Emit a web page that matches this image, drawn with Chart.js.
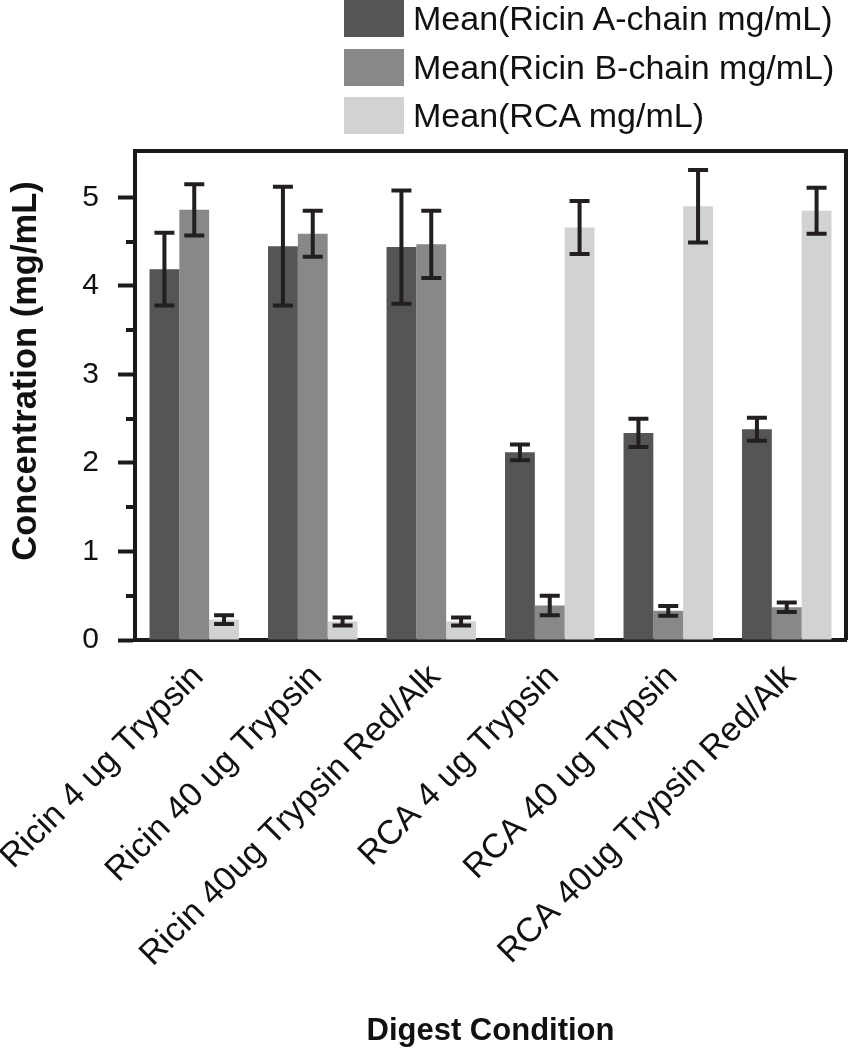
<!DOCTYPE html>
<html>
<head>
<meta charset="utf-8">
<script src="https://cdn.jsdelivr.net/npm/chart.js@4.4.1/dist/chart.umd.min.js"></script>
<style>
  body { margin: 0; background: #fff; font-family: "Liberation Sans", Arial, sans-serif; }
  #wrap { position: relative; width: 851px; height: 1050px; }
  #legend { position: absolute; left: 344px; top: 0; }
  .item { display: flex; align-items: center; height: 37px; margin-bottom: 11.5px; }
  .box { width: 60px; height: 37px; margin-right: 9px; }
  .lab { font-size: 34px; color: #111; line-height: 37px; white-space: nowrap; }
  #ytitle { position: absolute; left: -176px; top: 354px; width: 400px; height: 34px; line-height: 34px;
            text-align: center; font-size: 34.5px; font-weight: bold; color: #111; transform: rotate(-90deg); }
</style>
</head>
<body>
<div id="wrap">
  <canvas id="chart" width="851" height="1050"></canvas>
  <div id="legend"></div>
  <div id="ytitle">Concentration (mg/mL)</div>
</div>
<script>
var labels = ['Ricin 4 ug Trypsin', 'Ricin 40 ug Trypsin', 'Ricin 40ug Trypsin Red/Alk',
              'RCA 4 ug Trypsin', 'RCA 40 ug Trypsin', 'RCA 40ug Trypsin Red/Alk'];
var seriesNames = ['Mean(Ricin A-chain mg/mL)', 'Mean(Ricin B-chain mg/mL)', 'Mean(RCA mg/mL)'];
var chainA = [4.19, 4.45, 4.44, 2.12, 2.34, 2.38];
var chainAErr = [0.41, 0.67, 0.64, 0.09, 0.16, 0.13];
var chainB = [4.86, 4.59, 4.47, 0.39, 0.33, 0.37];
var chainBErr = [0.29, 0.26, 0.38, 0.11, 0.055, 0.055];
var rca = [0.23, 0.21, 0.21, 4.66, 4.90, 4.85];
var rcaErr = [0.05, 0.045, 0.045, 0.30, 0.41, 0.26];
var colors = ['#555557', '#87888a', '#d1d2d4'];

Chart.defaults.font.family = '"Liberation Sans", Arial, sans-serif';
Chart.defaults.color = '#111';

// legend as plain html above the plot
var legendEl = document.getElementById('legend');
seriesNames.forEach(function(name, i){
  var row = document.createElement('div');
  row.className = 'item';
  row.innerHTML = '<div class="box" style="background:' + colors[i] + '"></div><span class="lab"></span>';
  row.querySelector('.lab').textContent = name;
  legendEl.appendChild(row);
});

var errorBars = {
  id: 'errorBars',
  afterDatasetsDraw: function(chart){
    var ctx = chart.ctx, y = chart.scales.y;
    chart.data.datasets.forEach(function(ds, i){
      var meta = chart.getDatasetMeta(i);
      meta.data.forEach(function(bar, j){
        var v = ds.data[j], e = ds.errors[j];
        var top = y.getPixelForValue(v + e), bot = y.getPixelForValue(v - e);
        ctx.save();
        ctx.strokeStyle = '#231f20';
        ctx.lineWidth = 4;
        ctx.beginPath();
        ctx.moveTo(bar.x, top); ctx.lineTo(bar.x, bot);
        ctx.moveTo(bar.x - 10, top); ctx.lineTo(bar.x + 10, top);
        ctx.moveTo(bar.x - 10, bot); ctx.lineTo(bar.x + 10, bot);
        ctx.stroke();
        ctx.restore();
      });
    });
  }
};

// top/right frame lines and the half-step minor ticks on y
var frame = {
  id: 'frame',
  afterDraw: function(chart){
    var ctx = chart.ctx, a = chart.chartArea, y = chart.scales.y;
    ctx.save();
    ctx.strokeStyle = '#1a1a1a';
    ctx.lineWidth = 4;
    ctx.beginPath();
    ctx.moveTo(a.left - 2, a.top); ctx.lineTo(a.right, a.top); ctx.lineTo(a.right, a.bottom);
    for (var v = 0.5; v < 5.5; v += 1) {
      var py = Math.round(y.getPixelForValue(v));
      ctx.moveTo(a.left - 9, py); ctx.lineTo(a.left, py);
    }
    ctx.stroke();
    ctx.restore();
  }
};

new Chart(document.getElementById('chart'), {
  type: 'bar',
  data: {
    labels: labels,
    datasets: [
      { label: seriesNames[0], data: chainA, errors: chainAErr, backgroundColor: colors[0] },
      { label: seriesNames[1], data: chainB, errors: chainBErr, backgroundColor: colors[1] },
      { label: seriesNames[2], data: rca, errors: rcaErr, backgroundColor: colors[2] }
    ]
  },
  options: {
    responsive: false,
    animation: false,
    layout: { padding: { top: 151, right: 5, left: 0, bottom: 0 } },
    datasets: { bar: { categoryPercentage: 0.755, barPercentage: 1 } },
    plugins: { legend: { display: false }, tooltip: { enabled: false } },
    scales: {
      x: {
        grid: { display: true, drawOnChartArea: false, drawTicks: false },
        border: { color: '#1a1a1a', width: 4 },
        ticks: { minRotation: 45, maxRotation: 45, padding: 17, labelOffset: 4, font: { size: 34 }, color: '#111' },
        title: { display: true, text: 'Digest Condition', font: { size: 31, weight: 'bold' }, color: '#111', padding: { top: 0, bottom: 0 } },
        afterFit: function(s){ s.height = 410; s.paddingLeft = 0; s.paddingRight = 0; }
      },
      y: {
        min: 0,
        max: 5.525,
        grid: { drawOnChartArea: false, tickLength: 17, tickWidth: 4, tickColor: '#1a1a1a' },
        border: { color: '#1a1a1a', width: 4 },
        ticks: { stepSize: 1, padding: 19, font: { size: 30 }, color: '#111' },
        afterBuildTicks: function(s){ s.ticks = s.ticks.filter(function(t){ return Number.isInteger(t.value); }); },
        afterFit: function(s){ s.width = 135; }
      }
    }
  },
  plugins: [errorBars, frame]
});
</script>
</body>
</html>
